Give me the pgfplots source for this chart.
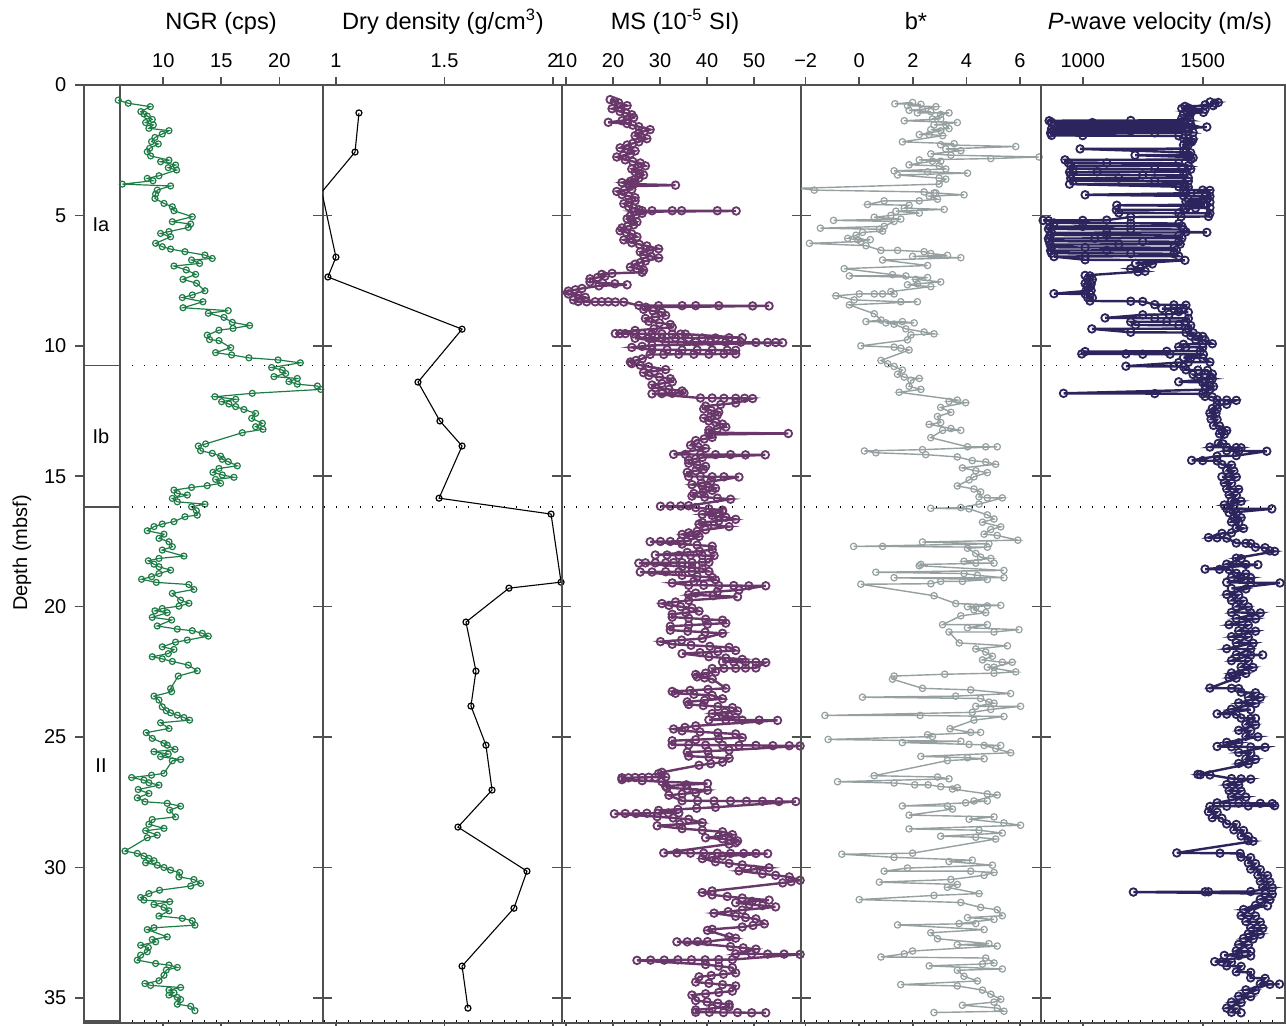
\documentclass[border=0pt]{standalone}
\usepackage{fontspec}
\setmainfont{Liberation Sans}
\usepackage{pgfplots}
\pgfplotsset{compat=1.18}

\definecolor{axisgray}{RGB}{80,80,80}
\definecolor{ngrgreen}{RGB}{30,125,70}
\definecolor{mspurple}{RGB}{105,55,105}
\definecolor{bgray}{RGB}{150,160,160}
\definecolor{pnavy}{RGB}{44,36,92}

\pgfplotsset{
  panel/.style={
    scale only axis,
    anchor=north west,
    height=468.85pt,
    ymin=0, ymax=35.95, y dir=reverse,
    ytick=\empty,
    xtick pos=both, xticklabel pos=upper,
    tick align=outside,
    major tick length=4pt,
    axis line style={draw=axisgray, line width=0.8pt},
    tick style={draw=axisgray, line width=0.8pt},
    tick label style={font=\fontsize{10}{12}\selectfont, text=black},
    xticklabel shift=1pt,
    /pgf/number format/assume math mode=true,
    /pgf/number format/1000 sep={},
  },
  series/.style={mark=o, mark size=1.5pt, line width=0.6pt,
    mark options={solid, line width=0.6pt}},
  dense/.style={mark=o, mark size=1.9pt, line width=1.2pt,
    mark options={solid, line width=0.9pt}},
}

\begin{document}
\begin{tikzpicture}
\path[use as bounding box] (0pt,0pt) rectangle (643pt,-513pt);

% lithologic unit column with the depth scale
\begin{axis}[panel, at={(42pt,-42.5pt)}, width=18pt,
  xmin=0, xmax=1, xtick=\empty,
  ytick={0,5,...,35}, ytick pos=left, major tick length=4.5pt,
  yticklabel shift=0.8pt]
\end{axis}

% NGR
\begin{axis}[panel, at={(60pt,-42.5pt)}, width=101.35pt,
  xmin=6.27, xmax=23.74, xtick={10,15,20}, clip=false]
\addplot[series, color=ngrgreen] coordinates {
(6.12,0.58)(6.98,0.70)(8.88,0.83)(8.07,1.02)(8.33,1.11)(8.62,1.19)(9.05,1.32)(8.48,1.44)(9.14,1.53)(8.76,1.66)(10.49,1.75)(9.91,1.88)(9.28,2.01)(8.99,2.17)(9.57,2.26)(8.82,2.43)(8.62,2.56)(8.91,2.72)(10.49,2.88)(9.77,2.94)(11.06,3.07)(10.43,3.17)(11.15,3.26)(9.63,3.48)(8.62,3.58)(9.11,3.67)(6.47,3.80)(10.63,3.87)(9.48,4.03)(9.34,4.18)(9.28,4.35)(10.06,4.54)(10.78,4.67)(10.92,4.82)(12.50,5.05)(10.78,5.24)(12.36,5.33)(12.16,5.46)(10.49,5.62)(9.77,5.69)(10.63,5.82)(9.34,6.07)(9.91,6.20)(10.63,6.29)(11.87,6.39)(13.59,6.52)(14.22,6.65)(12.44,6.71)(13.13,6.84)(10.92,6.94)(11.98,7.09)(12.79,7.26)(11.70,7.45)(12.87,7.60)(13.59,7.89)(12.50,8.05)(11.64,8.15)(13.42,8.31)(11.70,8.54)(15.60,8.65)(13.88,8.75)(15.23,8.91)(15.95,9.10)(17.44,9.22)(16.01,9.33)(14.80,9.40)(13.79,9.59)(13.99,9.76)(14.80,9.80)
(15.81,10.07)(14.51,10.26)(15.89,10.35)(17.38,10.46)(19.89,10.54)(21.81,10.65)(19.34,10.83)(20.26,10.93)(20.55,11.06)(19.54,11.18)(21.55,11.25)(20.83,11.37)(21.55,11.47)(23.28,11.54)(23.57,11.67)(17.67,11.82)(14.45,11.95)(16.24,12.05)(15.03,12.14)(15.66,12.23)(16.24,12.33)(16.95,12.44)(17.96,12.59)(17.62,12.78)(18.54,12.97)(17.96,13.10)(18.59,13.20)(16.81,13.33)(13.65,13.76)(13.02,13.84)(13.22,14.02)(14.22,14.12)(14.94,14.23)(15.09,14.35)(15.60,14.44)(16.38,14.60)(14.80,14.70)(14.28,14.85)(15.09,14.95)(16.09,15.04)(14.51,15.12)(14.94,15.27)(13.79,15.36)(12.44,15.43)(10.92,15.53)(11.21,15.66)(12.07,15.72)(10.78,15.85)(11.21,15.98)(13.59,16.07)(12.44,16.17)(12.85,16.32)(12.93,16.49)(11.87,16.55)(10.92,16.74)(9.91,16.83)(9.20,16.93)(8.62,17.09)(10.06,17.22)(9.63,17.38)(10.49,17.51)(10.78,17.70)(9.91,17.83)(11.78,18.06)(9.63,18.15)(8.71,18.24)(9.20,18.37)(9.63,18.47)(10.63,18.60)(9.63,18.73)(8.99,18.85)(8.13,18.95)(9.40,19.07)(12.21,19.15)(12.64,19.34)(10.78,19.49)(11.49,19.75)(12.21,19.87)(11.35,19.98)(9.91,20.07)(9.28,20.16)(10.34,20.23)(9.05,20.41)(10.72,20.51)(9.48,20.74)(11.21,20.86)(12.50,20.92)(13.36,21.02)(13.88,21.13)(12.07,21.28)(11.06,21.36)(9.91,21.54)(10.92,21.64)(10.43,21.80)(9.05,21.92)(9.91,22.00)(10.78,22.10)(12.16,22.24)(12.93,22.46)(11.29,22.66)(10.63,23.14)(10.72,23.26)(9.20,23.43)(9.63,23.58)(9.91,23.84)(10.26,23.99)(10.63,24.07)(11.21,24.16)(11.78,24.25)(12.27,24.35)(9.77,24.45)(10.49,24.67)(8.53,24.83)(9.05,25.05)(10.06,25.24)(10.34,25.31)(11.01,25.47)(9.20,25.56)(10.43,25.65)(9.77,25.75)(11.49,25.86)(10.78,25.91)(10.06,26.39)(8.99,26.46)(7.27,26.55)(8.33,26.65)(8.76,26.75)(9.63,26.84)(7.84,27.01)(8.76,27.16)(7.76,27.33)(8.42,27.48)(10.34,27.54)(11.49,27.65)(10.55,27.80)(11.06,28.06)(9.05,28.16)(8.76,28.34)(10.06,28.50)(8.48,28.59)(9.48,28.76)(8.62,28.86)(6.70,29.37)(7.76,29.46)(8.33,29.56)(8.76,29.65)(9.20,29.74)(8.48,29.82)(9.48,29.91)(10.06,30.00)(10.63,30.10)(11.41,30.19)(11.35,30.36)(12.64,30.46)(13.22,30.61)(12.36,30.71)(9.68,30.87)(8.76,31.00)(8.05,31.15)(8.33,31.25)(10.55,31.31)(9.20,31.42)(10.06,31.53)(10.49,31.66)(9.63,31.86)(11.64,31.95)(12.50,32.04)(12.73,32.21)(9.20,32.31)(8.62,32.38)(10.34,32.66)(9.05,32.76)(9.34,32.85)(8.05,32.98)(8.71,33.07)(8.62,33.23)(8.05,33.36)(7.76,33.55)(9.34,33.68)(10.49,33.74)(11.21,33.83)(10.26,33.93)(10.06,34.13)(9.63,34.34)(8.42,34.45)(8.91,34.52)(11.49,34.60)(10.49,34.70)(10.92,34.80)(10.49,34.89)(11.21,34.98)(11.49,35.06)(11.21,35.24)(12.36,35.32)(12.73,35.49)
};
\end{axis}

% Dry density
\begin{axis}[panel, at={(161.35pt,-42.5pt)}, width=119.5pt,
  xmin=0.939, xmax=2.040, xtick={1,1.5,2}]
\addplot[series, color=black, line width=0.55pt] coordinates {
(1.106,1.07)(1.088,2.57)(0.935,4.10)(1.000,6.60)(0.963,7.36)(1.581,9.36)(1.378,11.39)(1.479,12.88)(1.581,13.84)(1.475,15.84)(1.991,16.45)(2.037,19.06)(1.797,19.29)(1.599,20.59)(1.645,22.47)(1.622,23.81)(1.691,25.31)(1.719,27.03)(1.562,28.45)(1.880,30.14)(1.820,31.56)(1.581,33.78)(1.608,35.39)
};
\end{axis}

% Magnetic susceptibility
\begin{axis}[panel, at={(280.85pt,-42.5pt)}, width=119.65pt,
  xmin=9.085, xmax=60, xtick={10,20,30,40,50}]
\addplot[dense, color=mspurple] coordinates {
(19.4,0.56)(20.3,0.62)(21.2,0.68)(23.0,0.79)(21.4,0.85)(19.8,0.91)(21.5,1.02)(22.8,1.08)(24.0,1.14)(24.4,1.25)(23.1,1.31)(21.9,1.37)(19.0,1.43)(23.0,1.48)(24.2,1.54)(25.5,1.60)(27.9,1.71)(26.7,1.77)(25.5,1.83)(24.7,1.94)(26.0,2.00)(27.2,2.06)(25.5,2.18)(24.2,2.24)(23.0,2.30)(21.5,2.41)(23.1,2.47)(24.7,2.53)(23.7,2.64)(22.2,2.70)(20.8,2.76)(22.6,2.87)(24.2,2.93)(25.8,2.99)(26.9,3.10)(25.4,3.16)(24.0,3.22)(24.7,3.33)(25.6,3.39)(26.5,3.45)(25.5,3.57)(24.6,3.63)(23.7,3.69)
(21.9,3.74)(23.2,3.78)(24.4,3.80)(33.3,3.84)(23.5,3.88)(24.0,4.00)(22.4,4.03)(20.8,4.08)(21.9,4.20)(23.3,4.26)(24.7,4.32)(24.7,4.44)(23.5,4.49)(22.3,4.55)(23.3,4.66)(24.4,4.72)(25.5,4.78)
(26.2,4.82)(28.3,4.82)(32.6,4.82)(34.6,4.82)(42.2,4.82)(46.2,4.83)(24.5,4.86)(26.2,4.92)(24.9,4.97)(23.7,5.02)(23.0,5.13)(24.0,5.19)(25.1,5.25)(24.4,5.36)(23.1,5.42)(21.9,5.48)(21.5,5.59)(22.8,5.65)(24.0,5.71)(25.1,5.82)(23.7,5.88)(22.3,5.94)(24.0,6.05)(25.6,6.11)(27.2,6.17)(29.7,6.28)(27.8,6.34)(25.8,6.40)(26.5,6.51)(28.1,6.57)(29.7,6.63)(26.9,6.75)(25.8,6.81)(24.7,6.87)(23.7,6.98)(25.1,7.04)(26.5,7.10)
(26.2,7.18)(19.8,7.22)(17.6,7.26)(18.3,7.33)(16.7,7.38)(15.1,7.43)(15.1,7.55)(17.8,7.59)(20.4,7.62)(23.0,7.66)(17.0,7.70)(13.4,7.80)(12.0,7.85)(10.5,7.90)(8.4,7.96)(10.5,8.01)(12.6,8.06)(14.1,8.14)(12.8,8.19)(11.6,8.24)
(12.6,8.30)(14.4,8.31)(16.2,8.31)(17.6,8.31)(19.0,8.31)(20.5,8.32)(22.3,8.32)(25.5,8.45)(29.7,8.46)(34.7,8.46)(37.6,8.46)(42.5,8.46)(49.7,8.47)(53.2,8.47)(27.0,8.52)
(26.5,8.60)(28.5,8.66)(30.4,8.72)(31.2,8.83)(29.0,8.89)(26.9,8.95)(27.6,9.06)(29.9,9.12)(32.2,9.18)(32.6,9.29)(28.7,9.35)(24.7,9.41)
(20.5,9.53)(21.5,9.53)(22.6,9.53)(24.4,9.54)(26.2,9.54)(28.3,9.54)(30.4,9.54)(32.6,9.55)(34.4,9.55)(35.4,9.55)
(47.5,9.69)(44.7,9.69)(41.8,9.70)(39.0,9.70)(36.1,9.70)(33.3,9.70)(30.4,9.71)(27.6,9.71)(24.7,9.71)
(31.2,9.85)(34.4,9.85)(37.6,9.86)(40.8,9.86)(44.0,9.86)(47.2,9.86)(50.4,9.87)(52.9,9.87)(54.6,9.87)(56.1,9.88)
(28.3,9.98)(26.2,10.02)(24.0,10.06)(28.3,10.15)(31.5,10.15)(34.7,10.16)(37.9,10.16)(41.1,10.16)(44.3,10.17)(46.1,10.17)
(46.1,10.31)(43.6,10.31)(40.4,10.32)(37.2,10.32)(34.0,10.32)(30.8,10.33)(27.9,10.33)
(26.2,10.50)(24.9,10.56)(23.7,10.62)(24.0,10.68)(25.8,10.74)(27.6,10.80)(31.2,10.91)(28.8,10.97)(26.5,11.03)(27.6,11.14)(29.9,11.20)(32.2,11.26)(32.6,11.38)(30.4,11.44)(28.3,11.50)(29.0,11.61)(31.9,11.67)(34.7,11.73)
(35.1,11.81)(32.6,11.82)(30.4,11.83)(28.3,11.84)(38.6,12.00)(41.1,12.00)(43.6,12.01)(46.1,12.01)(48.0,12.01)(49.7,12.02)
(46.1,12.19)(42.9,12.25)(39.7,12.31)(39.3,12.42)(40.9,12.48)(42.5,12.54)(42.2,12.65)(40.8,12.71)(39.3,12.77)(40.4,12.88)(41.9,12.94)(43.3,13.00)(44.0,13.11)(42.2,13.17)(40.4,13.23)
(40.4,13.33)(57.3,13.36)(41.0,13.40)(41.1,13.51)(39.4,13.57)(37.6,13.63)(36.5,13.81)(38.1,13.87)(39.7,13.93)
(32.9,14.16)(35.4,14.16)(38.6,14.17)(41.8,14.17)(45.0,14.17)(48.2,14.18)(52.4,14.18)
(39.0,14.28)(37.6,14.33)(36.1,14.38)(36.1,14.50)(37.9,14.56)(39.7,14.62)(39.3,14.73)(37.6,14.79)(35.8,14.85)
(36.1,15.01)(38.6,15.01)(41.1,15.02)(43.6,15.02)(46.8,15.03)
(40.8,15.20)(38.8,15.26)(36.8,15.32)(39.0,15.38)(40.4,15.42)(41.8,15.46)(41.1,15.54)(39.2,15.60)(37.2,15.66)(36.8,15.76)(39.5,15.80)(42.2,15.84)(45.0,15.88)
(36.1,16.13)(34.4,16.14)(32.2,16.14)(30.1,16.15)
(37.6,16.20)(40.4,16.25)(43.3,16.30)(43.3,16.36)(41.1,16.41)(39.0,16.46)(41.1,16.50)(42.5,16.53)(44.0,16.57)(46.1,16.65)(42.5,16.71)(39.0,16.77)(38.3,16.83)(41.5,16.88)(44.7,16.93)(39.7,17.05)(37.9,17.11)(36.1,17.17)(34.7,17.23)(36.5,17.27)(38.3,17.31)
(35.8,17.49)(34.4,17.49)(32.2,17.50)(30.1,17.50)(27.9,17.51)
(34.7,17.60)(37.9,17.64)(41.1,17.68)(41.1,17.82)(38.4,17.87)(35.8,17.92)
(29.0,18.02)(31.5,18.02)(34.0,18.03)(36.5,18.03)(39.0,18.04)(41.5,18.04)
(40.4,18.30)(39.0,18.30)(36.8,18.31)(34.7,18.31)(32.9,18.31)(31.2,18.32)(29.0,18.32)(26.9,18.32)(25.5,18.33)
(34.7,18.46)(36.8,18.50)(39.0,18.54)
(40.4,18.65)(36.8,18.65)(34.0,18.66)(31.2,18.66)(28.3,18.67)(25.8,18.67)
(34.7,18.80)(37.9,18.84)(41.1,18.88)(41.8,18.97)(37.2,19.03)(32.6,19.09)
(36.1,19.18)(39.3,19.18)(42.5,19.19)(45.7,19.19)(48.9,19.20)(52.5,19.20)
(46.8,19.36)(42.2,19.42)(37.6,19.48)(36.1,19.54)(41.3,19.58)(46.5,19.62)(36.1,19.76)(33.3,19.82)(30.4,19.88)(31.9,19.95)(34.4,20.00)(36.8,20.05)(38.3,20.17)(35.5,20.23)(32.6,20.29)
(32.6,20.40)(36.1,20.44)(39.7,20.48)(43.3,20.52)(44.0,20.63)(40.1,20.67)(36.1,20.71)(32.2,20.75)(32.2,20.90)(35.9,20.94)(39.6,20.98)(43.3,21.02)(39.0,21.22)(34.6,21.28)(30.1,21.34)(32.6,21.44)(36.6,21.48)(40.6,21.52)(44.7,21.56)(46.1,21.68)(42.3,21.72)(38.5,21.76)(34.7,21.80)(40.4,21.92)(44.0,21.97)(47.5,22.02)
(43.3,22.12)(45.7,22.12)(48.2,22.13)(50.4,22.13)(52.5,22.14)(50.4,22.35)(48.2,22.35)(46.1,22.36)(43.6,22.36)(41.1,22.37)
(41.8,22.50)(39.7,22.55)(37.6,22.60)(37.9,22.69)(39.5,22.73)(41.1,22.77)(44.0,23.13)(40.2,23.17)(36.4,23.21)(32.6,23.25)(33.3,23.32)(37.2,23.36)(41.1,23.40)(43.3,23.53)(39.5,23.59)(35.8,23.65)(36.1,23.75)(39.2,23.79)(42.3,23.83)(45.4,23.87)(46.5,24.00)(43.8,24.05)(41.1,24.10)(43.3,24.18)(44.7,24.21)(46.1,24.24)
(40.4,24.34)(44.0,24.34)(47.5,24.35)(51.1,24.35)(55.0,24.36)
(37.6,24.57)(35.3,24.63)(32.9,24.69)(34.7,24.76)(38.5,24.80)(42.3,24.84)(46.1,24.88)(47.5,25.02)(42.5,25.06)(37.6,25.10)(32.6,25.14)
(32.6,25.30)(36.1,25.30)(39.7,25.31)(43.3,25.31)(46.8,25.32)(50.4,25.32)(54.0,25.33)(57.5,25.33)(59.8,25.34)
(44.7,25.50)(40.2,25.54)(35.8,25.58)(36.1,25.73)(40.4,25.77)(44.7,25.81)(43.3,25.96)(40.8,26.02)(38.3,26.08)
(30.4,26.35)(29.7,26.40)(31.2,26.53)(29.0,26.54)(27.6,26.54)(26.2,26.55)(24.7,26.55)(23.3,26.56)(21.9,26.56)
(21.9,26.63)(26.2,26.67)(30.4,26.71)(40.1,26.78)(35.6,26.83)(31.2,26.88)(31.5,26.94)(35.8,26.99)(40.1,27.04)(37.6,27.13)(34.7,27.18)(31.9,27.23)
(34.7,27.44)(38.0,27.44)(41.5,27.45)(45.0,27.45)(48.4,27.46)(51.8,27.46)(55.3,27.47)(58.9,27.47)
(41.8,27.69)(37.8,27.73)(33.8,27.77)(29.7,27.81)
(34.0,27.91)(31.8,27.91)(29.5,27.92)(27.2,27.92)(24.9,27.93)(22.6,27.93)(20.3,27.94)
(29.4,28.05)(32.8,28.10)(36.1,28.15)(39.0,28.28)(34.2,28.34)(29.4,28.40)(34.7,28.51)(39.0,28.57)(43.3,28.63)(45.4,28.74)(42.5,28.80)(39.7,28.86)(43.3,28.90)(44.9,28.94)(46.5,28.98)(46.1,29.05)(44.7,29.10)
(30.8,29.44)(33.6,29.44)(36.5,29.45)(39.3,29.45)(42.2,29.45)(45.0,29.46)(47.8,29.46)(50.4,29.46)(52.9,29.47)
(43.3,29.56)(41.1,29.61)(39.0,29.66)(41.8,29.78)(44.7,29.84)(47.5,29.90)(53.2,30.01)(50.0,30.07)(46.8,30.13)(51.8,30.24)(54.6,30.30)(57.5,30.36)(59.8,30.49)(57.9,30.54)(56.1,30.59)
(41.1,30.90)(39.0,30.96)(41.1,31.05)(44.3,31.11)(47.5,31.17)(53.2,31.25)(49.6,31.30)(46.1,31.35)(49.0,31.41)(51.8,31.46)(54.6,31.51)(47.5,31.63)(44.5,31.69)(41.5,31.75)(46.1,31.87)(48.2,31.92)(50.4,31.97)(52.2,32.16)(49.8,32.22)(47.5,32.28)
(41.1,32.37)(40.1,32.41)(44.7,32.66)(46.1,32.71)(40.1,32.84)(38.0,32.84)(35.8,32.85)(33.6,32.85)
(45.0,33.03)(47.7,33.08)(50.4,33.13)(46.1,33.31)(49.5,33.31)(52.9,33.32)(56.4,33.32)(59.8,33.33)
(45.4,33.53)(42.5,33.53)(39.6,33.54)(36.7,33.54)(33.8,33.54)(30.9,33.55)(28.0,33.55)(25.1,33.56)
(39.7,33.72)(42.5,33.78)(45.4,33.84)(46.1,34.04)(43.5,34.09)(40.9,34.14)(38.3,34.19)(37.6,34.39)(40.4,34.44)(43.3,34.49)(46.1,34.54)(45.4,34.74)(42.5,34.79)(39.7,34.84)(36.8,34.89)(37.6,35.10)(40.0,35.15)(42.3,35.20)(44.7,35.25)(44.7,35.34)(41.1,35.40)(37.6,35.46)
(37.6,35.55)(40.5,35.55)(43.5,35.56)(46.5,35.56)(49.5,35.57)(52.5,35.57)
};
\end{axis}

% b* colour reflectance
\begin{axis}[panel, at={(400.5pt,-42.5pt)}, width=120pt,
  xmin=-2.175, xmax=6.784, xtick={-2,0,2,4,6},
  xticklabels={−2,0,2,4,6}]
\addplot[series, color=bgray, line width=0.7pt, mark size=1.6pt] coordinates {
(1.99,0.67)(1.33,0.72)(2.30,0.74)(1.80,0.79)(2.86,0.83)(2.36,0.93)(1.86,0.97)(2.67,1.02)(2.17,1.07)(3.35,1.07)(3.04,1.13)(2.73,1.30)(3.04,1.30)(1.68,1.37)(3.66,1.44)(2.79,1.53)(3.23,1.53)(3.35,1.67)(2.67,1.71)(3.04,1.76)(2.24,1.90)(2.61,1.90)(3.11,1.94)(1.61,2.18)(3.54,2.25)(3.04,2.29)(5.84,2.36)(3.23,2.45)(3.79,2.52)(2.67,2.64)(3.42,2.69)(6.71,2.76)(4.91,2.82)(2.24,2.87)(3.04,2.92)(2.73,2.92)(1.86,3.06)(2.98,3.10)(3.23,3.22)(1.30,3.29)(2.55,3.33)(4.04,3.38)(1.43,3.45)(2.98,3.57)(3.23,3.61)(2.98,3.80)(-2.24,3.96)(-1.68,4.03)(2.42,4.10)(2.79,4.14)(2.86,4.14)(3.91,4.21)(2.61,4.26)(2.92,4.38)(2.24,4.44)(0.93,4.44)(0.31,4.58)(1.86,4.61)(1.68,4.72)(3.17,4.77)(1.37,4.84)(2.24,4.91)(1.18,5.00)(0.56,5.07)(1.55,5.14)(-0.96,5.19)(1.30,5.23)(0.93,5.42)(-1.45,5.49)(0.75,5.53)(0.87,5.60)(0.12,5.65)(-0.12,5.76)(-0.43,5.88)(-0.06,5.93)(0.41,5.93)(0.06,6.00)(-1.86,6.07)(0.25,6.16)(0.81,6.34)(1.43,6.34)(2.42,6.39)(2.67,6.46)(3.29,6.53)(1.99,6.57)(3.79,6.62)(0.87,6.71)(2.55,6.92)(-0.56,7.04)(1.24,7.27)(1.74,7.32)(-0.37,7.32)(2.55,7.38)(2.11,7.45)(3.04,7.55)(2.17,7.62)(1.80,7.66)(2.67,7.73)(1.18,7.92)(1.30,8.01)(0.87,8.01)(0.56,8.01)(0.00,8.01)(-0.87,8.08)(-0.19,8.24)(1.55,8.31)(2.17,8.31)(-0.37,8.43)(0.56,8.77)(0.81,9.01)(0.25,9.07)(1.61,9.07)(2.05,9.12)(0.99,9.12)(1.30,9.17)(1.74,9.35)(2.42,9.47)(2.79,9.54)(1.93,9.58)(1.80,9.77)(0.06,10.00)(1.30,10.05)(1.55,10.09)(1.86,10.16)(0.81,10.56)(1.06,10.69)(1.30,10.79)(1.61,10.93)(1.43,11.09)(1.68,11.20)(2.24,11.25)(1.93,11.32)(1.86,11.55)(2.30,11.67)(1.49,11.78)
(3.66,12.08)(3.35,12.13)(3.97,12.18)(3.04,12.36)(3.42,12.55)(2.92,12.71)(3.04,12.94)(2.61,13.01)(3.42,13.17)(3.79,13.24)(3.11,13.24)(2.67,13.52)(4.04,13.87)(4.72,13.87)(5.15,13.87)(2.36,13.98)(0.19,14.03)(0.62,14.10)(2.48,14.17)(3.66,14.26)(4.22,14.40)(4.72,14.45)(5.09,14.54)(3.85,14.68)(4.35,14.79)(4.78,14.86)(4.28,15.02)(4.10,15.14)(3.66,15.37)(4.28,15.49)(4.53,15.60)(4.47,15.79)(4.78,15.83)(5.34,15.83)(4.47,16.07)(3.79,16.20)(2.67,16.23)(4.10,16.25)(4.78,16.48)(5.03,16.64)(4.60,16.76)(5.28,16.94)(4.91,17.04)(4.66,17.22)(5.15,17.27)(5.92,17.45)(2.36,17.52)(4.84,17.59)(-0.21,17.69)(0.87,17.69)(4.78,17.72)(4.04,17.76)(4.35,17.96)(4.53,18.10)(4.91,18.15)(3.91,18.26)(4.35,18.33)(5.03,18.33)(2.30,18.38)(2.24,18.43)(5.40,18.61)(0.62,18.68)(3.91,18.73)(4.41,18.80)(5.40,18.89)(1.30,18.89)(4.78,18.96)(3.85,19.03)(3.04,19.03)(2.67,19.12)(0.06,19.14)(2.79,19.58)(3.60,19.88)(5.28,19.95)(4.78,19.97)(4.04,20.00)(4.35,20.02)(4.28,20.12)(4.72,20.23)(3.79,20.35)(3.11,20.69)(4.78,20.69)(4.04,20.81)(5.96,20.88)(5.03,20.97)(3.35,20.97)(3.73,21.39)(5.53,21.50)(4.35,21.62)(4.72,21.74)(4.97,21.90)(4.60,22.04)(5.34,22.13)(5.71,22.13)(5.03,22.32)(4.78,22.32)(5.84,22.50)(5.03,22.55)(3.19,22.59)(1.30,22.66)(1.24,22.78)(2.36,23.13)(4.16,23.19)(5.65,23.33)(3.60,23.43)(0.12,23.47)(4.53,23.52)(4.84,23.66)(5.03,23.70)(4.35,23.82)(6.02,23.82)(4.91,23.94)(4.22,24.05)(-1.28,24.17)(2.27,24.17)(5.40,24.21)(4.28,24.35)(3.39,24.68)(4.16,24.82)(4.53,24.82)(2.55,24.91)(2.73,24.98)(-1.16,25.09)(3.79,25.16)(1.61,25.21)(4.10,25.28)(5.28,25.32)(4.66,25.32)(5.09,25.44)(5.65,25.60)(2.30,25.74)(4.04,25.79)(4.66,25.83)(3.29,25.90)(0.56,26.48)(2.92,26.53)(3.35,26.60)(-0.81,26.71)(1.30,26.76)(2.07,26.83)(2.57,26.83)(3.04,26.90)(3.66,26.94)(3.48,26.99)(4.78,27.18)(5.15,27.22)(4.28,27.45)(4.78,27.45)(3.97,27.52)(1.61,27.64)(3.29,27.64)(3.48,27.76)(1.86,27.99)(5.03,28.06)(4.10,28.15)(5.40,28.29)(6.02,28.38)(1.86,28.52)(4.47,28.57)(5.34,28.68)(3.04,28.80)(4.35,28.84)(5.09,28.91)(1.99,29.45)(-0.65,29.49)(1.30,29.61)(4.22,29.72)(3.35,29.77)(4.97,29.91)(1.80,30.02)(0.93,30.14)(4.16,30.14)(5.03,30.19)(4.66,30.30)(3.42,30.46)(0.75,30.56)(3.66,30.65)(3.29,30.76)(4.47,31.00)(2.79,31.07)(0.00,31.23)(3.79,31.34)(4.53,31.53)(5.15,31.62)(5.34,31.85)(4.04,31.92)(5.03,31.99)(3.73,32.15)(4.35,32.15)(1.43,32.20)(4.66,32.38)(2.67,32.50)(2.92,32.73)(4.84,32.92)(3.66,32.96)(5.15,33.01)(1.99,33.20)(1.68,33.31)(0.81,33.43)(4.72,33.47)(5.03,33.66)(4.60,33.70)(2.61,33.77)(5.34,33.89)(3.66,33.94)(3.91,34.17)(4.41,34.35)(1.55,34.49)(3.66,34.54)(4.60,34.70)(4.91,34.86)(5.28,35.05)(5.03,35.16)(3.85,35.28)(5.15,35.39)(5.40,35.51)(2.79,35.56)
};
\end{axis}

% P-wave velocity
\begin{axis}[panel, at={(520.5pt,-42.5pt)}, width=122pt,
  xmin=826, xmax=1843, xtick={1000,1500}]
\addplot[dense, color=pnavy] coordinates {
(1531,0.65)(1565,0.67)(1551,0.70)(1510,0.76)(1544,0.79)(1426,0.82)(1440,0.88)(1413,0.90)(1510,0.93)(1433,1.00)(1454,1.02)(1503,1.05)(1420,1.11)(1447,1.14)(1413,1.28)
(1447,1.35)(1200,1.36)(860,1.37)(870,1.43)(1040,1.44)(1420,1.45)(1450,1.52)(1250,1.53)(880,1.54)(912,1.59)(1300,1.60)(1517,1.61)(1430,1.66)(1100,1.67)(870,1.68)(880,1.75)(1200,1.76)(1440,1.77)(1460,1.82)(1300,1.83)(866,1.84)(870,1.93)(1000,1.94)(1400,1.95)
(1420,2.04)(1440,2.06)(1460,2.08)(1433,2.16)(1454,2.18)(1440,2.28)(1420,2.30)(1430,2.44)(989,2.45)(1420,2.58)(1450,2.60)(1440,2.68)(1218,2.69)(1440,2.76)(1460,2.79)
(1450,2.86)(926,2.87)(940,2.98)(1100,2.99)(1400,3.00)(1440,3.09)(950,3.10)(960,3.21)(1300,3.22)(1450,3.23)(1430,3.32)(1060,3.33)(945,3.34)(950,3.44)(1250,3.45)(1420,3.46)(1440,3.56)(1150,3.57)(950,3.58)(960,3.67)(1300,3.68)(1440,3.69)(1420,3.79)(945,3.80)(1400,3.90)(1440,3.92)
(1420,4.02)(1500,4.03)(1530,4.04)(1510,4.13)(1450,4.14)(1430,4.15)(1010,4.21)(1420,4.25)(1530,4.27)(1520,4.36)(1440,4.38)(1500,4.40)(1430,4.47)(1530,4.49)(1460,4.51)(1510,4.59)(1142,4.61)(1440,4.63)(1530,4.70)(1470,4.72)(1430,4.74)(1420,4.78)(1140,4.79)(1150,4.90)(1400,4.91)(1530,4.92)(1524,5.04)(1410,5.05)(1200,5.06)
(1100,5.18)(1000,5.19)(835,5.19)(857,5.20)(880,5.29)(1200,5.30)(1400,5.31)(1413,5.41)(1000,5.42)(864,5.43)(857,5.52)(1200,5.53)(1420,5.54)(1430,5.63)(1517,5.65)(1100,5.66)(870,5.67)(864,5.75)(1100,5.76)(1400,5.77)(1413,5.87)(1050,5.88)(857,5.89)(860,5.99)(1250,6.00)(1400,6.01)(1406,6.10)(1150,6.11)(864,6.12)(870,6.22)(1010,6.23)(1380,6.24)(1390,6.33)(1100,6.34)(866,6.35)(870,6.45)(1200,6.46)(1380,6.47)(1400,6.56)(1010,6.57)(880,6.58)
(1010,6.70)(1426,6.72)(1220,6.84)(1290,6.86)(1240,7.03)(1200,7.05)(1260,7.14)(1230,7.16)(1010,7.30)(1030,7.32)(1020,7.44)(1040,7.46)(1010,7.61)(1035,7.63)(1020,7.72)(1030,7.74)(1015,7.86)(1035,7.88)(880,8.00)(1010,8.01)(1030,8.02)(1020,8.14)(1040,8.16)
(1030,8.28)(1200,8.29)(1250,8.30)(1300,8.42)(1380,8.43)(1430,8.44)(1420,8.56)(1330,8.57)(1380,8.58)(1400,8.69)(1440,8.71)(1360,8.79)(1250,8.81)(1093,8.93)(1300,8.94)(1440,8.95)(1430,9.06)(1350,9.07)(1200,9.08)(1220,9.20)(1400,9.21)(1450,9.22)(1440,9.34)(1038,9.35)(1200,9.48)(1430,9.49)(1460,9.50)
(1450,9.62)(1480,9.63)(1500,9.64)(1470,9.76)(1510,9.78)(1540,9.92)(1500,9.93)(1420,9.94)(1400,10.04)(1430,10.05)(1500,10.06)(1490,10.20)(1350,10.21)(1010,10.22)(996,10.31)(1180,10.31)(1250,10.32)(1364,10.32)(1503,10.33)
(1420,10.45)(1450,10.46)(1500,10.47)(1530,10.62)(1440,10.63)(1400,10.64)(1180,10.78)(1380,10.79)(1420,10.80)(1430,10.92)(1480,10.93)(1520,10.94)(1540,11.08)(1510,11.09)(1460,11.10)(1480,11.24)(1530,11.25)(1540,11.26)(1400,11.38)(1500,11.40)(1510,11.54)(1530,11.55)(1545,11.56)(1530,11.66)(1510,11.68)
(920,11.82)(1300,11.83)(1500,11.84)(1510,11.94)(1540,11.96)(1560,12.07)(1600,12.08)(1640,12.09)(1600,12.24)(1560,12.26)(1540,12.40)(1560,12.42)(1530,12.58)(1555,12.60)(1535,12.81)(1560,12.83)(1545,13.05)(1570,13.07)(1580,13.23)(1600,13.25)(1570,13.37)(1590,13.39)
(1565,13.74)(1585,13.76)(1530,13.88)(1600,13.89)(1640,13.90)(1660,13.91)(1600,14.02)(1650,14.03)(1767,14.04)(1640,14.21)(1560,14.23)(1454,14.39)(1500,14.40)(1560,14.41)(1580,14.55)(1620,14.57)(1600,14.78)(1630,14.80)
(1610,15.01)(1580,15.02)(1640,15.03)(1590,15.25)(1620,15.27)(1600,15.48)(1650,15.50)(1610,15.71)(1640,15.73)(1620,15.94)(1660,15.96)(1590,16.10)(1630,16.12)(1600,16.24)(1788,16.25)(1610,16.40)(1640,16.42)(1630,16.57)(1660,16.59)(1620,16.75)(1650,16.77)(1640,16.98)(1670,17.00)
(1620,17.17)(1580,17.19)(1524,17.35)(1560,17.36)(1600,17.37)(1640,17.56)(1680,17.57)(1700,17.58)(1720,17.72)(1760,17.74)(1780,17.86)(1800,17.88)(1640,18.14)(1660,18.16)(1600,18.37)(1680,18.38)(1730,18.39)(1510,18.56)(1570,18.57)(1610,18.58)(1640,18.72)(1680,18.74)
(1620,18.88)(1660,18.89)(1700,18.90)(1600,19.07)(1700,19.08)(1822,19.09)(1620,19.30)(1680,19.32)(1600,19.53)(1650,19.55)(1620,19.76)(1670,19.78)(1640,19.99)(1690,20.01)(1620,20.22)(1700,20.23)(1740,20.24)
(1640,20.45)(1720,20.47)(1610,20.69)(1690,20.71)(1650,20.92)(1720,20.94)(1620,21.15)(1690,21.17)(1640,21.38)(1710,21.40)(1600,21.61)(1700,21.63)(1640,21.84)(1750,21.85)(1700,21.86)(1620,22.07)(1690,22.09)(1660,22.31)(1710,22.33)(1620,22.54)(1680,22.56)(1610,22.72)(1640,22.74)
(1530,23.12)(1620,23.13)(1650,23.14)(1660,23.28)(1720,23.30)(1690,23.46)(1740,23.48)(1650,23.69)(1720,23.71)(1620,23.93)(1700,23.95)(1560,24.11)(1600,24.12)(1640,24.13)(1660,24.27)(1720,24.28)(1700,24.29)(1680,24.51)(1720,24.53)(1650,24.74)(1700,24.76)(1680,24.97)(1730,24.99)
(1600,25.20)(1650,25.22)(1560,25.36)(1620,25.37)(1700,25.38)(1760,25.39)(1650,25.59)(1700,25.61)(1680,25.83)(1720,25.85)(1650,26.01)(1690,26.03)(1480,26.43)(1490,26.44)(1530,26.45)(1620,26.59)(1660,26.60)(1700,26.61)(1600,26.82)(1650,26.84)(1610,27.05)(1660,27.07)(1620,27.28)(1680,27.30)
(1560,27.52)(1650,27.53)(1740,27.54)(1790,27.55)(1800,27.63)(1690,27.64)(1600,27.65)(1530,27.66)(1524,27.86)(1560,27.88)(1540,28.09)(1580,28.11)(1600,28.33)(1640,28.35)(1630,28.56)(1670,28.58)(1660,28.79)(1690,28.81)(1690,28.97)(1710,28.99)
(1392,29.44)(1572,29.45)(1656,29.46)(1660,29.60)(1700,29.62)(1690,29.83)(1720,29.85)(1700,30.06)(1740,30.08)(1730,30.29)(1770,30.31)(1740,30.53)(1780,30.55)(1750,30.76)(1790,30.78)
(1700,30.92)(1524,30.93)(1510,30.93)(1211,30.94)(1760,31.00)(1790,31.02)(1740,31.22)(1780,31.24)(1720,31.45)(1770,31.47)(1670,31.61)(1700,31.63)(1660,31.84)(1720,31.86)(1680,32.07)(1740,32.09)(1700,32.31)(1750,32.33)(1690,32.54)(1740,32.56)(1670,32.72)(1710,32.74)(1650,32.95)(1690,32.97)(1640,33.19)(1700,33.21)
(1590,33.37)(1650,33.38)(1700,33.39)(1550,33.61)(1580,33.62)(1620,33.63)(1600,33.77)(1660,33.79)(1640,34.00)(1700,34.02)(1700,34.23)(1760,34.25)(1740,34.46)(1820,34.47)(1780,34.48)(1680,34.69)(1720,34.71)(1650,34.93)(1700,34.95)(1620,35.16)(1660,35.18)(1600,35.39)(1640,35.41)(1620,35.55)(1660,35.57)
};
\end{axis}

% depth ticks crossing the panel dividers
\foreach \xx in {161.35,280.85,400.5,520.5,642.5}{
  \foreach \dd in {0,5,...,35}{
    \draw[axisgray, line width=0.8pt]
      ({\xx*1pt-4.75pt},{-42.5pt-\dd*13.0417pt}) -- ({\xx*1pt+4.75pt},{-42.5pt-\dd*13.0417pt});
  }
}

% unit boundaries: solid in the unit column, dotted across the logs
\foreach \yy in {182.7,253.5,510.4}{
  \draw[axisgray, line width=0.8pt] (42pt,-\yy pt) -- (60pt,-\yy pt);
  \draw[black, line width=0.7pt, dash pattern=on 0.7pt off 5.3pt] (66pt,-\yy pt) -- (642pt,-\yy pt);
}

% unit names
\node[font=\fontsize{10}{12}\selectfont] at (50.5pt,-112.5pt) {Ia};
\node[font=\fontsize{10}{12}\selectfont] at (50.5pt,-218pt) {Ib};
\node[font=\fontsize{10}{12}\selectfont] at (50.5pt,-383pt) {II};

% depth label
\node[rotate=90, font=\fontsize{10}{12}\selectfont] at (11pt,-276.5pt) {Depth (mbsf)};

% log titles
\begin{scope}[every node/.style={anchor=base, font=\fontsize{11.8}{14}\selectfont}]
\node at (110.5pt,-14.65pt) {NGR (cps)};
\node at (221.5pt,-14.65pt) {Dry density (g/cm\textsuperscript{3})};
\node at (337.5pt,-14.65pt) {MS (10\textsuperscript{-5} SI)};
\node at (458pt,-14.65pt) {b*};
\node at (580pt,-14.65pt) {\textit{P}-wave velocity (m/s)};
\end{scope}
\end{tikzpicture}
\end{document}
